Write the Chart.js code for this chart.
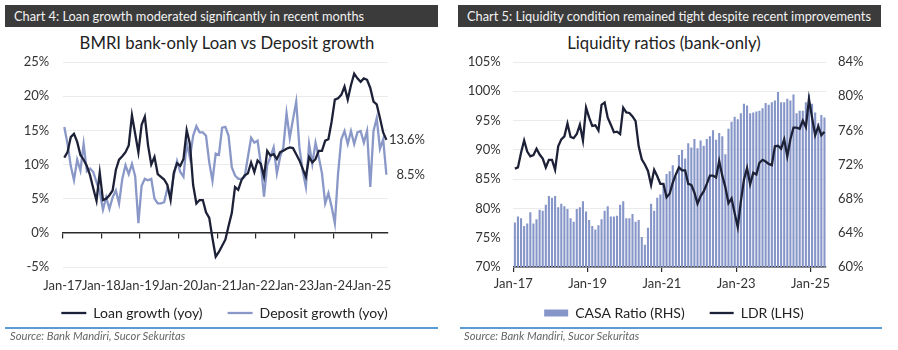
<!DOCTYPE html>
<html>
<head>
<meta charset="utf-8">
<script src="https://cdn.jsdelivr.net/npm/chart.js@4/dist/chart.umd.min.js"></script>
<style>
  html, body { margin: 0; padding: 0; background: #fff; }
  body { width: 898px; height: 350px; position: relative; overflow: hidden; font-family: Lato, "Noto Sans", sans-serif; }
  .hdr { position: absolute; height: 22px; background: #3b3b3b; color: #f2f2f2; font-size: 12.8px; line-height: 22px; padding-left: 9px; box-sizing: border-box; white-space: nowrap; overflow: hidden; }
  .ttl { position: absolute; top: 32px; height: 22px; line-height: 22px; text-align: center; font-size: 16.7px; color: #222; white-space: nowrap; }
  .box { position: absolute; top: 52px; }
  .rule { position: absolute; top: 327px; height: 1.5px; background: #5b9bd5; z-index: 2; }
  .src { position: absolute; top: 329px; font-size: 11.2px; font-style: italic; color: #666; white-space: nowrap; }
</style>
</head>
<body>
<div class="hdr" style="left:5px;top:5px;width:433px;">Chart 4: Loan growth moderated significantly in recent months</div>
<div class="ttl" style="left:0;width:454px;">BMRI bank-only Loan vs Deposit growth</div>
<div class="box" style="left:0;"><canvas id="c1" width="449" height="278"></canvas></div>
<div class="rule" style="left:5px;width:433px;"></div>
<div class="src" style="left:10px;">Source: Bank Mandiri, Sucor Sekuritas</div>

<div class="hdr" style="left:458px;top:5px;width:423px;">Chart 5: Liquidity condition remained tight despite recent improvements</div>
<div class="ttl" style="left:450px;width:428px;">Liquidity ratios (bank-only)</div>
<div class="box" style="left:450px;"><canvas id="c2" width="448" height="278"></canvas></div>
<div class="rule" style="left:460px;width:422px;"></div>
<div class="src" style="left:464px;">Source: Bank Mandiri, Sucor Sekuritas</div>

<script>
// Monthly data, Jan-17 .. May-25
const yearLabelsLeft = ['Jan-17','Jan-18','Jan-19','Jan-20','Jan-21','Jan-22','Jan-23','Jan-24','Jan-25'];
const yearLabelsRight = ['Jan-17','Jan-19','Jan-21','Jan-23','Jan-25'];

const loanGrowth = [
  11.0, 11.8, 14.0, 14.5, 13.3, 11.4, 10.7, 9.8, 8.4, 6.5,
  4.7, 8.8, 4.8, 5.0, 5.5, 6.2, 9.2, 10.7, 11.2, 11.8,
  12.8, 17.2, 14.5, 11.8, 15.8, 17.0, 12.8, 10.0, 11.1, 8.6,
  8.2, 7.8, 7.0, 4.8, 8.8, 10.2, 9.8, 10.8, 15.0, 13.0,
  7.0, 4.3, 4.8, 4.8, 3.0, 2.2, -0.8, -3.5, -2.8, -1.9,
  -1.0, 1.0, 2.9, 6.7, 6.3, 7.7, 8.4, 8.7, 10.3, 8.9,
  10.6, 10.1, 8.2, 12.0, 11.3, 11.5, 10.8, 11.8, 12.0, 12.3,
  12.5, 12.4, 11.5, 10.6, 9.4, 8.2, 11.1, 10.3, 10.8, 12.0,
  12.0, 13.5, 13.7, 16.3, 19.5, 19.7, 20.2, 21.4, 19.5, 21.6,
  23.3, 22.6, 22.1, 22.6, 22.4, 21.2, 19.2, 18.8, 16.8, 14.7,
  13.6
];
const depositGrowth = [
  15.5, 13.0, 9.8, 7.7, 10.7, 9.1, 13.0, 9.0, 9.4, 8.9,
  7.4, 6.0, 3.4, 5.2, 3.5, 5.2, 6.2, 4.3, 7.9, 9.9,
  8.6, 10.1, 8.3, 1.4, 6.9, 7.9, 7.7, 7.9, 5.0, 4.3,
  4.3, 4.5, 6.5, 5.5, 8.4, 10.5, 8.9, 8.2, 13.2, 11.0,
  14.2, 15.6, 14.7, 14.7, 14.2, 10.3, 7.6, 11.6, 11.4, 15.4,
  15.5, 14.2, 9.6, 8.4, 7.9, 7.9, 8.2, 11.1, 13.9, 13.2,
  13.5, 10.1, 5.3, 9.9, 11.1, 12.5, 8.7, 11.1, 12.5, 17.5,
  13.9, 16.6, 19.2, 12.5, 9.1, 6.7, 13.0, 10.1, 13.2, 11.1,
  8.7, 4.3, 5.8, 3.8, 1.4, 8.7, 13.7, 14.9, 13.0, 14.9,
  13.0, 14.7, 14.9, 13.2, 14.9, 6.7, 14.9, 16.8, 12.3, 13.7,
  8.5
];
const casaRatio = [
  65.2, 65.9, 65.7, 64.8, 65.1, 66.4, 65.1, 65.6, 66.7, 66.6,
  67.3, 68.3, 68.1, 68.3, 67.0, 67.4, 67.1, 66.8, 65.7, 65.3,
  66.8, 67.0, 67.7, 66.5, 65.5, 64.8, 64.4, 64.9, 65.6, 66.6,
  67.1, 65.9, 65.9, 66.0, 67.3, 67.7, 65.7, 65.7, 66.2, 65.3,
  65.5, 63.5, 62.6, 64.6, 67.4, 66.6, 68.1, 68.5, 69.6, 70.9,
  71.2, 71.9, 70.6, 73.1, 73.7, 72.7, 74.5, 74.0, 75.0, 73.9,
  74.8, 74.2, 75.0, 75.3, 76.0, 74.9, 75.7, 75.3, 73.2, 76.2,
  77.0, 77.6, 77.3, 78.0, 79.1, 78.9, 78.0, 78.1, 78.2, 78.3,
  78.6, 79.2, 79.0, 79.3, 79.5, 80.5, 79.3, 79.3, 79.7, 79.5,
  80.2, 78.0, 78.3, 78.3, 79.3, 80.2, 79.1, 78.1, 76.9, 77.8,
  77.5
];
const ldr = [
  86.8, 87.0, 89.5, 91.6, 89.7, 88.9, 89.1, 90.2, 89.2, 88.5,
  87.0, 88.3, 88.3, 86.6, 90.6, 91.8, 92.3, 94.5, 92.2, 92.0,
  92.7, 94.3, 91.6, 97.2, 95.5, 94.1, 94.2, 93.3, 97.7, 98.1,
  95.5, 94.3, 93.0, 93.1, 92.7, 97.2, 96.4, 96.3, 95.7, 94.9,
  90.6, 88.4, 87.5, 86.4, 84.0, 86.6, 85.5, 84.2, 84.2, 81.9,
  82.5, 84.4, 85.8, 87.0, 86.5, 86.5, 84.2, 84.0, 82.7, 80.8,
  82.1, 82.9, 84.2, 85.6, 85.6, 85.3, 88.1, 85.6, 83.6, 80.9,
  81.7, 79.2, 76.8, 81.2, 84.9, 86.9, 84.1, 86.1, 85.8, 87.8,
  88.3, 88.0, 87.6, 87.4, 90.6, 90.7, 90.2, 91.8, 88.9, 91.8,
  93.8, 93.8, 93.6, 95.0, 93.9, 98.7, 95.5, 92.5, 94.0, 92.5,
  93.1
];

// each monthly value sits in the middle of its month on a month-index axis
const toPoints = arr => arr.map((v, i) => ({ x: i + 0.5, y: v }));
const MONTHS = loanGrowth.length;

const FONT = 'Lato';
const TXT = '#333';
const tickFont = { family: FONT, size: 13 };

Chart.defaults.font.family = FONT;
Chart.defaults.color = TXT;

// fixed-height bottom axis whose labels may spill below its box
const fixedBottom = s => { s.height = 14; s._computeLabelArea = () => undefined; };

const endLabels = {
  id: 'endLabels',
  afterDatasetsDraw(chart) {
    const { ctx, chartArea } = chart;
    const ys = chart.scales.y;
    ctx.save();
    ctx.font = '13px ' + FONT;
    ctx.fillStyle = TXT;
    ctx.textAlign = 'right';
    ctx.textBaseline = 'middle';
    chart.data.datasets.forEach(ds => {
      const last = ds.data[ds.data.length - 1];
      ctx.fillText(last.y.toFixed(1) + '%', chartArea.right + 37, ys.getPixelForValue(last.y));
    });
    ctx.restore();
  }
};

const legendOpts = (extra) => Object.assign({
  position: 'bottom',
  labels: { usePointStyle: true, pointStyleWidth: 25, boxHeight: 8, padding: 25, color: '#222', font: { family: FONT, size: 14 } }
}, extra);

new Chart(document.getElementById('c1'), {
  type: 'line',
  data: {
    datasets: [
      { label: 'Loan growth (yoy)', data: toPoints(loanGrowth), borderColor: '#1d2137', backgroundColor: '#1d2137',
        borderWidth: 2.3, pointRadius: 0, pointStyle: 'line', tension: 0 },
      { label: 'Deposit growth (yoy)', data: toPoints(depositGrowth), borderColor: '#8a98c8', backgroundColor: '#8a98c8',
        borderWidth: 2.3, pointRadius: 0, pointStyle: 'line', tension: 0 }
    ]
  },
  options: {
    responsive: false, animation: false,
    layout: { padding: { left: 0, right: 0, top: 10, bottom: 0 } },
    plugins: { tooltip: { enabled: false }, legend: legendOpts({}) },
    scales: {
      x: {
        type: 'linear', min: 0, max: MONTHS,
        afterFit: fixedBottom,
        ticks: { stepSize: 12, includeBounds: false, autoSkip: false, maxRotation: 0, minRotation: 0, padding: 11,
                 font: tickFont, color: TXT, callback: v => yearLabelsLeft[v / 12] },
        grid: { display: false, drawTicks: false }, border: { display: false }
      },
      x0: {
        type: 'linear', min: 0, max: MONTHS, position: { y: 0 },
        ticks: { display: false, stepSize: 12, includeBounds: false, autoSkip: false },
        grid: { drawOnChartArea: false, drawTicks: true, tickLength: 5, color: '#2a2a2a', lineWidth: 1.2 },
        border: { color: '#2a2a2a', width: 1.5 }
      },
      y: {
        min: -5, max: 25,
        afterFit: s => { s.width = 62.7; },
        ticks: { stepSize: 5, padding: 0, font: tickFont, color: TXT, callback: v => v + '%' },
        grid: { color: '#ebebeb', drawTicks: true, tickLength: 13.5, tickColor: 'rgba(0,0,0,0)' }, border: { display: false }
      },
      // empty right-hand gutter that holds the end-of-line value labels
      yGutter: {
        position: 'right', min: -5, max: 25,
        afterFit: s => { s.width = 61; },
        ticks: { display: false }, grid: { display: false, drawTicks: false }, border: { display: false }
      }
    }
  },
  plugins: [endLabels]
});

new Chart(document.getElementById('c2'), {
  type: 'bar',
  data: {
    datasets: [
      { type: 'line', label: 'LDR (LHS)', data: toPoints(ldr), yAxisID: 'y', borderColor: '#1d2137', backgroundColor: '#1d2137',
        borderWidth: 2.3, pointRadius: 0, pointStyle: 'line', tension: 0 },
      { type: 'bar', label: 'CASA Ratio (RHS)', data: toPoints(casaRatio), yAxisID: 'y2', backgroundColor: '#8796c8',
        borderWidth: 0, barPercentage: 0.68, categoryPercentage: 1, pointStyle: 'rect' }
    ]
  },
  options: {
    responsive: false, animation: false,
    layout: { padding: { left: 0, right: 0, top: 10, bottom: 0 } },
    plugins: {
      tooltip: { enabled: false },
      legend: legendOpts({ reverse: true, labels: { usePointStyle: true, pointStyleWidth: 24, boxHeight: 7, padding: 25, color: '#222', font: { family: FONT, size: 14 } } })
    },
    scales: {
      x: {
        type: 'linear', min: 0, max: MONTHS, offset: false,
        afterFit: fixedBottom,
        ticks: { stepSize: 24, includeBounds: false, autoSkip: false, maxRotation: 0, minRotation: 0, padding: 4,
                 font: tickFont, color: TXT, callback: v => yearLabelsRight[v / 24] },
        grid: { offset: false, drawOnChartArea: false, drawTicks: true, tickLength: 5, color: '#2a2a2a', lineWidth: 1.2 },
        border: { color: '#2a2a2a', width: 1.5 }
      },
      y: {
        position: 'left', min: 70, max: 105,
        afterFit: s => { s.width = 63.3; },
        ticks: { stepSize: 5, padding: 0, font: tickFont, color: TXT, callback: v => v + '%' },
        grid: { color: '#ebebeb', drawTicks: true, tickLength: 12.6, tickColor: 'rgba(0,0,0,0)' }, border: { display: false }
      },
      y2: {
        position: 'right', min: 60, max: 84,
        afterFit: s => { s.width = 72; },
        ticks: { stepSize: 4, padding: 0, font: tickFont, color: TXT, callback: v => v + '%' },
        grid: { drawOnChartArea: false, drawTicks: true, tickLength: 12, tickColor: 'rgba(0,0,0,0)' }, border: { display: false }
      }
    }
  }
});
</script>
</body>
</html>
